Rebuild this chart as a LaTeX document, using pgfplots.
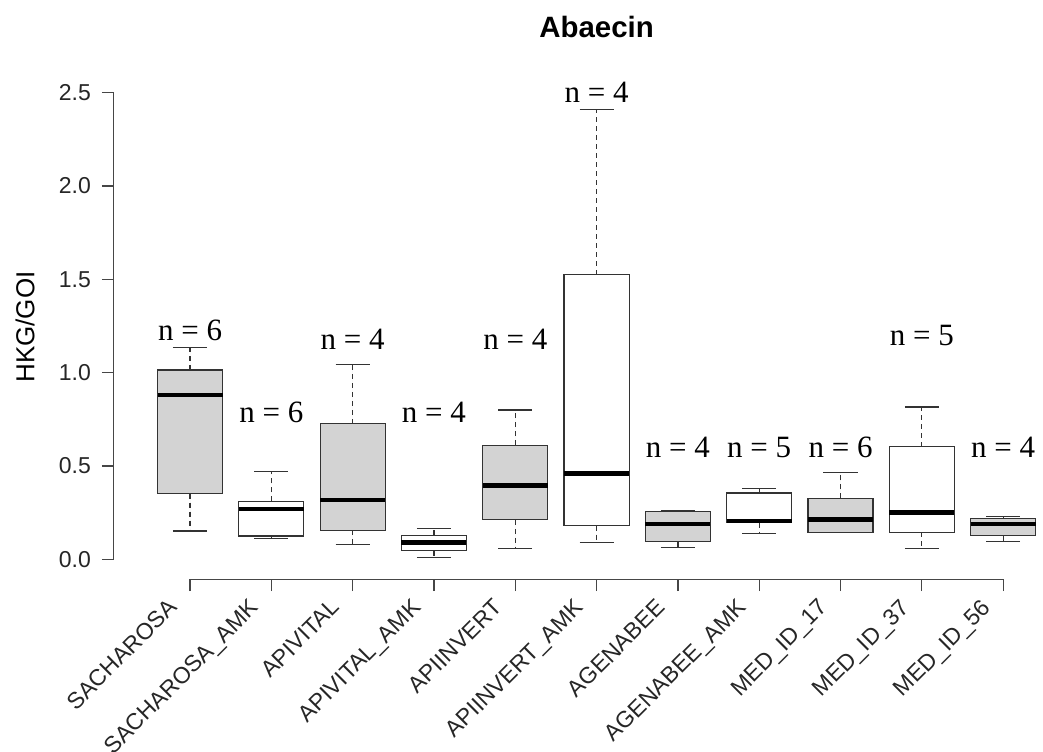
\documentclass[border=0pt]{standalone}
\usepackage{pgfplots}
\pgfplotsset{compat=1.18}
\usepgfplotslibrary{statistics}
\usepackage{fontspec}
\setmainfont{Liberation Sans}
\newfontfamily\arialf{Liberation Sans}
\newfontfamily\serifn{Liberation Serif}
\definecolor{boxgray}{RGB}{211,211,211}
\definecolor{axgray}{RGB}{70,70,70}

\pgfplotsset{
  rbox/.style={
    boxplot/draw direction=y,
    draw=black!80, line width=0.6pt,
    boxplot/box extend=0.8,
    boxplot/whisker extend=0.42,
    boxplot/every median/.style={draw=black, line width=2.4pt},
    boxplot/draw/lower whisker/.code={%
      \draw[dash pattern=on 2.5pt off 2pt] (boxplot cs:\pgfplotsboxplotvalue{lower quartile},0) -- (boxplot cs:\pgfplotsboxplotvalue{lower whisker},0);
      \draw[solid] (boxplot whisker cs:\pgfplotsboxplotvalue{lower whisker},0) -- (boxplot whisker cs:\pgfplotsboxplotvalue{lower whisker},1);
    },
    boxplot/draw/upper whisker/.code={%
      \draw[dash pattern=on 2.5pt off 2pt] (boxplot cs:\pgfplotsboxplotvalue{upper quartile},0) -- (boxplot cs:\pgfplotsboxplotvalue{upper whisker},0);
      \draw[solid] (boxplot whisker cs:\pgfplotsboxplotvalue{upper whisker},0) -- (boxplot whisker cs:\pgfplotsboxplotvalue{upper whisker},1);
    },
  },
}
\tikzset{nlab/.style={font=\serifn\fontsize{15.5}{17}\selectfont, inner sep=0pt}}

\begin{document}
\begin{tikzpicture}
\begin{axis}[
  x=40.65pt, y=93.35pt,
  xmin=0.06, xmax=11.49,
  ymin=-0.107, ymax=2.51,
  clip=false,
  axis x line*=bottom, axis y line*=left,
  axis line style={draw=none},
  tick align=outside,
  major tick length=5.8pt,
  tick style={axgray, line width=0.6pt},
  xtick={1,2,3,4,5,6,7,8,9,10,11},
  xticklabels={SACHAROSA,SACHAROSA\_AMK,APIVITAL,APIVITAL\_AMK,APIINVERT,APIINVERT\_AMK,AGENABEE,AGENABEE\_AMK,MED\_ID\_17,MED\_ID\_37,MED\_ID\_56},
  ytick={0,0.5,1,1.5,2,2.5},
  yticklabels={0.0,0.5,1.0,1.5,2.0,2.5},
  tick label style={font=\arialf\fontsize{11.5}{13}\selectfont, text=black!85},
  yticklabel style={xshift=-2pt},
  xticklabel style={font=\arialf\fontsize{11.5}{13}\selectfont, xshift=-11.5pt, yshift=-3pt, rotate=45, anchor=north east, inner sep=0pt},
  /pgf/number format/assume math mode=true,
]
% data: lower whisker, lower quartile, median, upper quartile, upper whisker
\addplot[rbox, fill=boxgray, boxplot prepared={draw position=1, lower whisker=0.152, lower quartile=0.353, median=0.881, upper quartile=1.015, upper whisker=1.133}] coordinates {};
\addplot[rbox, fill=white, boxplot prepared={draw position=2, lower whisker=0.110, lower quartile=0.125, median=0.270, upper quartile=0.311, upper whisker=0.470}] coordinates {};
\addplot[rbox, fill=boxgray, boxplot prepared={draw position=3, lower whisker=0.081, lower quartile=0.157, median=0.318, upper quartile=0.726, upper whisker=1.042}] coordinates {};
\addplot[rbox, fill=white, boxplot prepared={draw position=4, lower whisker=0.009, lower quartile=0.047, median=0.090, upper quartile=0.130, upper whisker=0.165}] coordinates {};
\addplot[rbox, fill=boxgray, boxplot prepared={draw position=5, lower whisker=0.058, lower quartile=0.212, median=0.398, upper quartile=0.612, upper whisker=0.800}] coordinates {};
\addplot[rbox, fill=white, boxplot prepared={draw position=6, lower whisker=0.089, lower quartile=0.181, median=0.461, upper quartile=1.524, upper whisker=2.410}] coordinates {};
\addplot[rbox, fill=boxgray, boxplot prepared={draw position=7, lower whisker=0.065, lower quartile=0.094, median=0.190, upper quartile=0.257, upper whisker=0.262}] coordinates {};
\addplot[rbox, fill=white, boxplot prepared={draw position=8, lower whisker=0.137, lower quartile=0.197, median=0.206, upper quartile=0.356, upper whisker=0.378}] coordinates {};
\addplot[rbox, fill=boxgray, boxplot prepared={draw position=9, lower whisker=0.145, lower quartile=0.145, median=0.212, upper quartile=0.327, upper whisker=0.465}] coordinates {};
\addplot[rbox, fill=white, boxplot prepared={draw position=10, lower whisker=0.058, lower quartile=0.145, median=0.253, upper quartile=0.604, upper whisker=0.816}] coordinates {};
\addplot[rbox, fill=boxgray, boxplot prepared={draw position=11, lower whisker=0.096, lower quartile=0.128, median=0.190, upper quartile=0.219, upper whisker=0.230}] coordinates {};

% R-style axis lines
\draw[axgray, line width=0.6pt] (axis cs:0.06,0) -- (axis cs:0.06,2.5);
\draw[axgray, line width=0.6pt] (axis cs:1,-0.107) -- (axis cs:11,-0.107);

% sample sizes
\node[nlab] at (axis cs:1,1.225) {n = 6};
\node[nlab] at (axis cs:2,0.79) {n = 6};
\node[nlab] at (axis cs:3,1.18) {n = 4};
\node[nlab] at (axis cs:4,0.79) {n = 4};
\node[nlab] at (axis cs:5,1.18) {n = 4};
\node[nlab] at (axis cs:6,2.50) {n = 4};
\node[nlab] at (axis cs:7,0.60) {n = 4};
\node[nlab] at (axis cs:8,0.60) {n = 5};
\node[nlab] at (axis cs:9,0.60) {n = 6};
\node[nlab] at (axis cs:10,1.20) {n = 5};
\node[nlab] at (axis cs:11,0.60) {n = 4};

% title and y label
\node[font=\arialf\bfseries\fontsize{14.7}{16}\selectfont] at (axis cs:6,2.85) {Abaecin};
\node[rotate=90, font=\arialf\fontsize{13}{15}\selectfont] at (axis cs:-1.03,1.245) {HKG/GOI};

\coordinate (bbsw) at (axis cs:-1.337,-1.027);
\coordinate (bbne) at (axis cs:11.49,2.996);
\end{axis}
\pgfresetboundingbox
\path[use as bounding box] (bbsw) rectangle (bbne);
\end{tikzpicture}
\end{document}
